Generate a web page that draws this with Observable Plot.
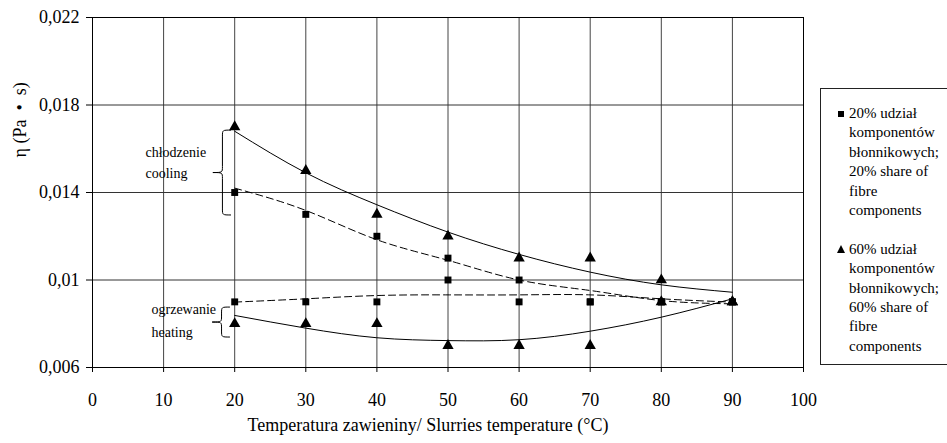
<!DOCTYPE html>
<html>
<head>
<meta charset="utf-8">
<script src="https://cdn.jsdelivr.net/npm/d3@7"></script>
<script src="https://cdn.jsdelivr.net/npm/@observablehq/plot@0.6"></script>
<style>
html, body { margin: 0; padding: 0; background: #fff; overflow: hidden; }
#wrap { position: relative; width: 947px; height: 443px; overflow: hidden; }
#legend {
  position: absolute; left: 820px; top: 88px; width: 150px; height: 277px;
  border: 1px solid #222; box-sizing: border-box;
  font-family: "Liberation Serif", "Times New Roman", serif; font-size: 15px; line-height: 19.4px;
  color: #000; padding-top: 15px;
}
.item { position: relative; padding-left: 28px; margin-bottom: 19.4px; }
.mk { position: absolute; left: 17px; top: 7px; }
.sq { width: 6px; height: 6px; background: #000; }
.tri { width: 0; height: 0; border-left: 4.5px solid transparent; border-right: 4.5px solid transparent; border-bottom: 8px solid #000; top: 5px; left: 16px; }
</style>
</head>
<body>
<div id="wrap"><div id="chart"></div><div id="legend"></div></div>
<script>
// ---- data ----
const temps = [20, 30, 40, 50, 60, 70, 80, 90];

// measured points (square = 20% share, triangle = 60% share)
const sqCooling  = [0.014, 0.013, 0.012, 0.011, 0.010, 0.009, 0.009, 0.009];
const sqHeating  = [0.009, 0.009, 0.009, 0.010, 0.009, 0.009, 0.009, 0.009];
const triCooling = [0.017, 0.015, 0.013, 0.012, 0.011, 0.011, 0.010, 0.009];
const triHeating = [0.008, 0.008, 0.008, 0.007, 0.007, 0.007, 0.009, 0.009];

// trend curves
const trendSqCooling  = [0.0142, 0.01318, 0.01184, 0.0109, 0.0100, 0.00952, 0.00906, 0.00891];
const trendSqHeating  = [0.00899, 0.00914, 0.00929, 0.00932, 0.00932, 0.00932, 0.00914, 0.00899];
const trendTriCooling = [0.0168, 0.0149, 0.01344, 0.01219, 0.01117, 0.01036, 0.00978, 0.00944];
const trendTriHeating = [0.00838, 0.0078, 0.00736, 0.00723, 0.00727, 0.00766, 0.0083, 0.00914];

const xTicks = [0, 10, 20, 30, 40, 50, 60, 70, 80, 90, 100];
const xTickLabels = ["0", "10", "20", "30", "40", "50", "60", "70", "80", "90", "100"];
const yTicks = [0.006, 0.010, 0.014, 0.018, 0.022];
const yTickLabels = ["0,006", "0,01", "0,014", "0,018", "0,022"];

const yTitle = "η\u00A0(Pa\u00A0\u00A0•\u00A0\u00A0s)";
const xTitle = "Temperatura zawieniny/ Slurries temperature (°C)";

const annoLabels = ["chłodzenie", "cooling", "ogrzewanie", "heating"];
const annoX = [7.45, 7.45, 8.3, 8.3];
const annoY = [0.01581, 0.01485, 0.00867, 0.00758];

// braces: right end x, tip x, top y, bottom y (data units)
const braces = [
  {xr: 19.55, xt: 17.0, y0: 0.01683, y1: 0.01295},
  {xr: 19.4,  xt: 16.9, y0: 0.00874, y1: 0.00737}
];

const legendLabels = [
  ["20% udział", "komponentów", "błonnikowych;", "20% share of", "fibre", "components"],
  ["60% udział", "komponentów", "błonnikowych;", "60% share of", "fibre", "components"]
];
const legendSymbols = ["sq", "tri"];

// ---- build tables ----
const toRows = (arr) => temps.map((t, i) => ({t, v: arr[i]}));
const sqPts = [...toRows(sqCooling), ...toRows(sqHeating)];
const triPts = [...toRows(triCooling), ...toRows(triHeating)];
const annos = annoLabels.map((s, i) => ({s, x: annoX[i], y: annoY[i]}));

const serif = "Liberation Serif, Times New Roman, serif";

const plot = Plot.plot({
  width: 947, height: 443,
  marginLeft: 92, marginRight: 144, marginTop: 17, marginBottom: 76,
  style: {fontFamily: serif, fontSize: "18px", color: "#000", background: "transparent", overflow: "visible"},
  x: {domain: [0, 100], ticks: xTicks, tickFormat: d => xTickLabels[xTicks.indexOf(d)], label: null, tickSize: 5, tickPadding: 21},
  y: {domain: [0.006, 0.022], ticks: yTicks, tickFormat: d => yTickLabels[yTicks.indexOf(d)], label: null, tickSize: 6, tickPadding: 7},
  marks: [
    Plot.ruleX(xTicks, {stroke: "#444", strokeWidth: 1}),
    Plot.ruleY(yTicks, {stroke: "#333", strokeWidth: 1}),
    Plot.frame({stroke: "#000", strokeWidth: 1}),
    Plot.line(toRows(trendTriCooling), {x: "t", y: "v", curve: "natural", stroke: "#000", strokeWidth: 1}),
    Plot.line(toRows(trendTriHeating), {x: "t", y: "v", curve: "natural", stroke: "#000", strokeWidth: 1}),
    Plot.line(toRows(trendSqCooling), {x: "t", y: "v", curve: "natural", stroke: "#000", strokeWidth: 1, strokeDasharray: "7,4"}),
    Plot.line(toRows(trendSqHeating), {x: "t", y: "v", curve: "natural", stroke: "#000", strokeWidth: 1, strokeDasharray: "7,4"}),
    Plot.dot(sqPts, {x: "t", y: "v", symbol: "square", fill: "#000", stroke: "none", r: 3.9}),
    Plot.dot(triPts, {x: "t", y: "v", symbol: "triangle", fill: "#000", stroke: "none", r: 4.2}),
    Plot.text(annos, {x: "x", y: "y", text: "s", textAnchor: "start", fontSize: 14, fontFamily: serif, fill: "#000"}),
    Plot.text([yTitle], {frameAnchor: "left", text: d => d, rotate: -90, dx: -72, dy: -35, fontSize: 18, fontFamily: serif, fill: "#000"}),
    Plot.text([xTitle], {frameAnchor: "bottom", text: d => d, dx: -20, dy: 63, fontSize: 18, fontFamily: serif, fill: "#000"})
  ]
});

document.getElementById("chart").appendChild(plot);

// braces drawn through the plot's scales
const sx = plot.scale("x"), sy = plot.scale("y");
function bracePath(b) {
  const xr = sx.apply(b.xr), xt = sx.apply(b.xt);
  const y0 = sy.apply(b.y0), y1 = sy.apply(b.y1);
  const xm = (xr + xt) / 2 + 0.5, ym = (y0 + y1) / 2, r = 6;
  return `M${xr},${y0} C${xm},${y0} ${xm},${y0} ${xm},${y0 + r} L${xm},${ym - r} C${xm},${ym} ${xm},${ym} ${xt},${ym} C${xm},${ym} ${xm},${ym} ${xm},${ym + r} L${xm},${y1 - r} C${xm},${y1} ${xm},${y1} ${xr},${y1}`;
}
d3.select(plot).append("g")
  .selectAll("path").data(braces).join("path")
  .attr("d", bracePath).attr("fill", "none").attr("stroke", "#000").attr("stroke-width", 1);

// legend
const leg = document.getElementById("legend");
legendLabels.forEach((lines, i) => {
  const item = document.createElement("div");
  item.className = "item";
  const mk = document.createElement("div");
  mk.className = "mk " + legendSymbols[i];
  item.appendChild(mk);
  lines.forEach(l => { const d = document.createElement("div"); d.textContent = l; item.appendChild(d); });
  leg.appendChild(item);
});
</script>
</body>
</html>
